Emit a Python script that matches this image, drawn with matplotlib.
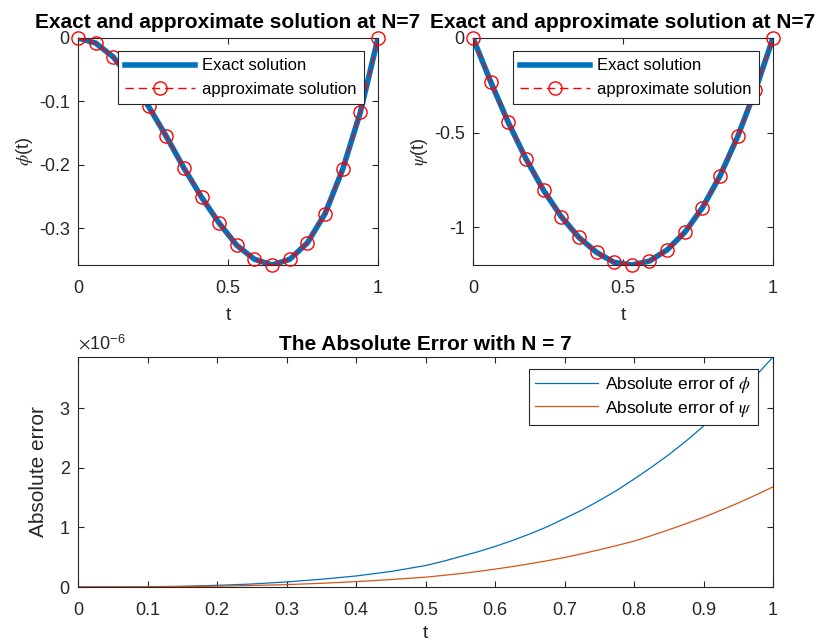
import numpy as np
import matplotlib
matplotlib.use('Agg')
import matplotlib.pyplot as plt
from matplotlib.ticker import FuncFormatter

plt.rcParams['font.family'] = ['Liberation Sans', 'DejaVu Sans']
plt.rcParams['mathtext.fontset'] = 'stix'

# collocation points t = k/17 and solution values
t_pts = [k / 17 for k in range(18)]
phi_vals = [0, -0.0079, -0.030, -0.065, -0.108, -0.155, -0.205, -0.251, -0.292,
            -0.327, -0.349, -0.358, -0.349, -0.323, -0.277, -0.207, -0.117, 0]
psi_vals = [0, -0.231, -0.447, -0.639, -0.806, -0.945, -1.055, -1.134, -1.187,
            -1.201, -1.180, -1.121, -1.028, -0.898, -0.729, -0.521, -0.276, 0]

# absolute errors (in units of 1e-6)
t_err = [0, 0.05, 0.1, 0.15, 0.2, 0.25, 0.3, 0.35, 0.4, 0.45, 0.5,
         0.525, 0.55, 0.575, 0.6, 0.625, 0.65, 0.675, 0.7, 0.725, 0.75,
         0.775, 0.8, 0.825, 0.85, 0.875, 0.9, 0.925, 0.95, 0.975, 1.0]
err_phi = [0, 0.0005, 0.004, 0.012, 0.028, 0.05, 0.085, 0.13, 0.185, 0.26, 0.36,
           0.43, 0.51, 0.59, 0.68, 0.78, 0.89, 1.01, 1.15, 1.29, 1.45,
           1.62, 1.81, 2.01, 2.22, 2.45, 2.70, 2.96, 3.24, 3.54, 3.86]
err_psi = [0, 0.0005, 0.003, 0.007, 0.014, 0.025, 0.04, 0.062, 0.09, 0.125, 0.165,
           0.194, 0.225, 0.26, 0.30, 0.343, 0.39, 0.44, 0.495, 0.557, 0.625,
           0.695, 0.77, 0.862, 0.96, 1.063, 1.17, 1.287, 1.41, 1.542, 1.68]

blue = '#0072BD'
orange = '#D95319'
gray = '#262626'

fig = plt.figure(figsize=(8.23, 6.42), dpi=100)
W, H = 823, 642


def px_axes(x0, y0, x1, y1):
    return fig.add_axes([x0 / W, 1 - y1 / H, (x1 - x0) / W, (y1 - y0) / H])


def style(ax, fs=13):
    ax.tick_params(direction='in', top=True, right=True, colors=gray,
                   labelsize=fs, length=4, width=0.8)
    ax.tick_params(axis='x', pad=11)
    ax.tick_params(axis='y', pad=6)
    for s in ax.spines.values():
        s.set_color(gray)
        s.set_linewidth(0.8)


def frame(leg):
    leg.get_frame().set_edgecolor(gray)
    leg.get_frame().set_linewidth(0.8)


ax1 = px_axes(78, 38, 378, 265)
ax2 = px_axes(473, 38, 773, 265)
ax3 = px_axes(78, 357, 773, 587)

for ax, vals, ylab, yt in [(ax1, phi_vals, r'$\phi$(t)', [0, -0.1, -0.2, -0.3]),
                           (ax2, psi_vals, r'$\psi$(t)', [0, -0.5, -1])]:
    ax.plot(t_pts, vals, color=blue, lw=4, label='Exact solution')
    ax.plot(t_pts, vals, '--o', color='red', lw=1, ms=9.5, mfc='none', dashes=(6, 3.5),
            mew=1, label='approximate solution', clip_on=False, zorder=3)
    ax.set_xlim(0, 1)
    ax.set_ylim(min(vals), 0)
    ax.set_xticks([0, 0.5, 1])
    ax.set_xticklabels(['0', '0.5', '1'])
    ax.set_yticks(yt)
    ax.set_yticklabels([f'{v:g}' for v in yt])
    style(ax)
    ax.set_xlabel('t', fontsize=14, color=gray, labelpad=7)
    ax.set_ylabel(ylab, fontsize=13, color=gray, labelpad=3)
    ax.set_title('Exact and approximate solution at N=7', fontsize=15,
                 fontweight='bold', pad=7)
    leg = ax.legend(loc='upper right', bbox_to_anchor=(0.953, 0.943), fontsize=12,
                    handlelength=4.2, fancybox=False, framealpha=1, borderaxespad=0,
                    borderpad=0.45, labelspacing=0.5, handletextpad=0.4)
    leg.set_zorder(5)
    frame(leg)

ax3.plot(t_err, np.array(err_phi) * 1e-6, color=blue, lw=0.9,
         label=r'Absolute error of $\phi$')
ax3.plot(t_err, np.array(err_psi) * 1e-6, color=orange, lw=0.9,
         label=r'Absolute error of $\psi$')
ax3.set_xlim(0, 1)
ax3.set_ylim(0, max(err_phi) * 1e-6)
ax3.set_xticks(np.arange(0, 1.01, 0.1))
ax3.set_xticklabels(['0', '0.1', '0.2', '0.3', '0.4', '0.5', '0.6', '0.7', '0.8', '0.9', '1'])
ax3.set_yticks([0, 1e-6, 2e-6, 3e-6])
ax3.yaxis.set_major_formatter(FuncFormatter(lambda v, p: f'{v * 1e6:g}'))
style(ax3)
ax3.text(0.0, 1.015, r'$\times\mathregular{10}^{\mathregular{-6}}$', transform=ax3.transAxes,
         fontsize=13, color=gray, ha='left', va='bottom')
ax3.set_xlabel('t', fontsize=14, color=gray, labelpad=4)
ax3.set_ylabel('Absolute error', fontsize=15, color=gray, labelpad=8)
ax3.set_title('The Absolute Error with N = 7', fontsize=15, fontweight='bold', pad=5)
leg = ax3.legend(loc='upper right', bbox_to_anchor=(0.978, 0.948), fontsize=12.5,
                 handlelength=3.6, fancybox=False, framealpha=1, borderaxespad=0,
                 borderpad=0.35, labelspacing=0.2, handletextpad=0.4)
frame(leg)

fig.savefig('out.png', dpi=100)
